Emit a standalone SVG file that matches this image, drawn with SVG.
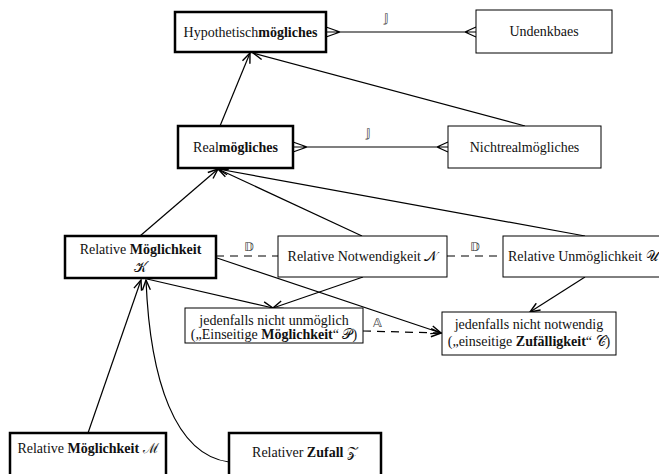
<svg xmlns="http://www.w3.org/2000/svg" width="659" height="474" viewBox="0 0 659 474">
<style>
text{font-family:'Liberation Serif',serif;font-size:14px;fill:#111;text-anchor:middle}
.b{font-weight:bold}
.m{font-size:12px;fill:#333}
.thick{fill:#fff;stroke:#000;stroke-width:2.5}
.thin{fill:#fff;stroke:#000;stroke-width:1}
.e{fill:none;stroke:#000;stroke-width:1.2}
.d{fill:none;stroke:#000;stroke-width:1.2;stroke-dasharray:8,6}
</style>
<defs>
<marker id="a" markerUnits="userSpaceOnUse" markerWidth="12" markerHeight="10" refX="11" refY="5" orient="auto">
<path d="M1,1 L11,5 L1,9" fill="none" stroke="#000" stroke-width="1.4"/>
</marker>
</defs>
<g id="connectors">
<path class="e" d="M220,126 L250,53" marker-end="url(#a)"/>
<path class="e" d="M525,126 L253,53" marker-end="url(#a)"/>
<path class="e" d="M140,236 L218,169" marker-end="url(#a)"/>
<path class="e" d="M362,236 L218,169" marker-end="url(#a)"/>
<path class="e" d="M585,236 L218,169" marker-end="url(#a)"/>
<path class="e" d="M147,279 L273,308" marker-end="url(#a)"/>
<path class="e" d="M363,277 L273,308" marker-end="url(#a)"/>
<path class="e" d="M217,258 L441,333" marker-end="url(#a)"/>
<path class="e" d="M585,277 L530,312" marker-end="url(#a)"/>
<path class="d" d="M363,331 L441,333" marker-end="url(#a)"/>
<path class="e" d="M88,433 L141,280" marker-end="url(#a)"/>
<path class="e" d="M229,462 C175,455 150,380 146,280" marker-end="url(#a)"/>
<path class="d" d="M216,256 L278,256"/>
<path class="d" d="M447,256 L503,256"/>
<path class="e" d="M326,32 L476,32 M326,27 L340,32 L326,37 M476,27 L465,32 L476,37"/>
<path class="e" d="M293,147 L448,147 M293,142 L307,147 L293,152 M448,142 L437,147 L448,152"/>
<text class="m" x="386" y="22">𝕁</text>
<text class="m" x="368" y="137">𝕁</text>
<text class="m" x="249" y="251">𝔻</text>
<text class="m" x="475" y="251">𝔻</text>
<text class="m" x="377" y="327">𝔸</text>
</g>
<g id="hypo"><rect class="thick" x="175" y="12" width="151" height="40"/><text x="250.5" y="37">Hypothetisch<tspan class="b">mögliches</tspan></text></g>
<g id="undenk"><rect class="thin" x="476" y="10" width="136" height="43"/><text x="544" y="36">Undenkbaes</text></g>
<g id="real"><rect class="thick" x="178" y="126" width="115" height="42"/><text x="235.5" y="152">Real<tspan class="b">mögliches</tspan></text></g>
<g id="nichtreal"><rect class="thin" x="448" y="126" width="153" height="42"/><text x="524.5" y="152">Nichtrealmögliches</text></g>
<g id="K"><rect class="thick" x="65" y="236" width="151" height="42"/><text x="140.5" y="254">Relative <tspan class="b">Möglichkeit</tspan></text><text x="140.5" y="272">𝒦</text></g>
<g id="N"><rect class="thin" x="278" y="236" width="169" height="41"/><text x="362.5" y="261">Relative Notwendigkeit 𝒩</text></g>
<g id="U"><rect class="thin" x="503" y="236" width="170" height="41"/><text x="508" y="261" style="text-anchor:start">Relative Unmöglichkeit 𝒰</text></g>
<g id="P"><rect class="thin" x="185" y="308" width="178" height="35"/><text x="274" y="325">jedenfalls nicht unmöglich</text><text x="274" y="339">(„Einseitige <tspan class="b">Möglichkeit</tspan>“ 𝒫)</text></g>
<g id="C"><rect class="thin" x="442" y="312" width="174" height="43"/><text x="529" y="329">jedenfalls nicht notwendig</text><text x="529" y="346">(„einseitige <tspan class="b">Zufälligkeit</tspan>“ 𝒞)</text></g>
<g id="M"><rect class="thick" x="10" y="433" width="156" height="60"/><text x="88" y="453">Relative <tspan class="b">Möglichkeit</tspan> ℳ</text></g>
<g id="Z"><rect class="thick" x="229" y="433" width="152" height="60"/><text x="305" y="457">Relativer <tspan class="b">Zufall</tspan> 𝒵</text></g>
</svg>
